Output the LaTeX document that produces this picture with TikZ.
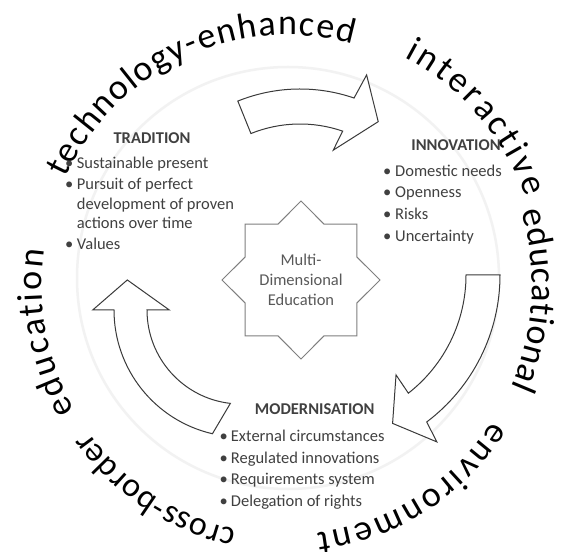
\documentclass[tikz,border=0pt]{standalone}
\usepackage{fontspec}
\setmainfont{Carlito}
\usetikzlibrary{decorations.text}
\definecolor{txt}{HTML}{404040}
\definecolor{startxt}{HTML}{595959}
\definecolor{starline}{HTML}{7F7F7F}
\definecolor{arrline}{HTML}{3A3A3A}
\newcommand{\arcfont}{\fontsize{36}{36}\selectfont}
\newcommand{\arcfontb}{\fontsize{34}{34}\selectfont}
\begin{document}
\begin{tikzpicture}[x=1pt,y=1pt,
  head/.style={font=\fontsize{16.5}{18}\selectfont\bfseries, text=txt, inner sep=0pt, text height=12pt, text depth=4pt},
  item/.style={font=\fontsize{16.5}{18}\selectfont, text=txt, anchor=west, inner sep=0pt, text height=12pt, text depth=4pt},
  bul/.style={item},
  blockarrow/.style={draw=arrline, fill=white, line width=1pt, line join=miter},
  arctext/.style={decorate, decoration={text along path, text align=fit to path, text={#1}}}
]
\useasboundingbox (0,0) rectangle (580,551);
\fill[white] (0,0) rectangle (580,551);
% faint ring
\draw[black!5, line width=2.5pt] (288,273) circle[radius=211];

% outer curved words
\begin{scope}[shift={(287,266)}]
\path[arctext={|\arcfont|technology-enhanced}] (154.5:245 and 250) arc[start angle=154.5, end angle=74.5, x radius=245, y radius=250];
\path[arctext={|\arcfont|interactive}] (62.5:254 and 257) arc[start angle=62.5, end angle=20, x radius=254, y radius=257];
\path[arctext={|\arcfont|educational}] (17:245 and 250) arc[start angle=17, end angle=-24, x radius=245, y radius=250];
\path[arctext={|\arcfont|environment}] (-33:245 and 250) arc[start angle=-33, end angle=-83, x radius=245, y radius=250];
\path[arctext={|\arcfontb|cross-border}] (258:245 and 250) arc[start angle=258, end angle=216, x radius=245, y radius=250];
\path[arctext={|\arcfont|education}] (210:245 and 250) arc[start angle=210, end angle=172, x radius=245, y radius=250];
\end{scope}

% block arrows
\begin{scope}[shift={(300,296)}]
\draw[blockarrow] (112:166) arc[start angle=112, end angle=71, radius=166] -- (69.7:192) -- (59.6:154.6) -- (72.4:110) -- (71:131) arc[start angle=71, end angle=112, radius=131] -- cycle;
\end{scope}
\begin{scope}[shift={(316,276)}]
\draw[blockarrow] (0:184) arc[start angle=0, end angle=-53, radius=184] -- (-54.1:206) -- (-62.7:167) -- (-51.3:128) -- (-52:150) arc[start angle=-52, end angle=0, radius=150] -- cycle;
\end{scope}
\begin{scope}[shift={(241,241)}]
\draw[blockarrow] (257:127) arc[start angle=257, end angle=180, radius=127] -- (180:148.3) -- (165.2:117.6) -- (180:71.7) -- (180:94) arc[start angle=180, end angle=263.5, radius=94] -- cycle;
\end{scope}

% central star
\begin{scope}[shift={(301,271)}]
\draw[draw=starline, fill=white, line width=1pt] (0:79) -- (22.5:60.4) -- (45:79) -- (67.5:60.4) -- (90:79) -- (112.5:60.4) -- (135:79) -- (157.5:60.4) -- (180:79) -- (202.5:60.4) -- (225:79) -- (247.5:60.4) -- (270:79) -- (292.5:60.4) -- (315:79) -- (337.5:60.4) -- cycle;
\end{scope}
\node[align=center, text=startxt, font=\fontsize{16.5}{20}\selectfont, inner sep=0pt] (mde) at (301,271) {Multi-\\Dimensional\\Education};

% TRADITION
\node[head] (trh) at (152,411.7) {TRADITION};
\node[bul] (trb1) at (65,386) {•};
\node[item] (tr1) at (76.7,386) {Sustainable present};
\node[bul] (trb2) at (65,365) {•};
\node[item] (tr2) at (76.7,365) {Pursuit of perfect};
\node[item] (tr3) at (76.7,345.5) {development of proven};
\node[item] (tr4) at (76.7,326) {actions over time};
\node[bul] (trb5) at (65,305) {•};
\node[item] (tr5) at (76.7,305) {Values};

% INNOVATION
\node[head] (inh) at (456,404.3) {INNOVATION};
\node[bul] (inb1) at (383,378.3) {•};
\node[item] (in1) at (395,378.3) {Domestic needs};
\node[bul] (inb2) at (383,357) {•};
\node[item] (in2) at (395,357) {Openness};
\node[bul] (inb3) at (383,335) {•};
\node[item] (in3) at (395,335) {Risks};
\node[bul] (inb4) at (383,313.7) {•};
\node[item] (in4) at (395,313.7) {Uncertainty};

% MODERNISATION
\node[head] (moh) at (314.7,140.3) {MODERNISATION};
\node[bul] (mob1) at (219.5,113.7) {•};
\node[item] (mo1) at (230.7,113.7) {External circumstances};
\node[bul] (mob2) at (219.5,92) {•};
\node[item] (mo2) at (230.7,92) {Regulated innovations};
\node[bul] (mob3) at (219.5,70.3) {•};
\node[item] (mo3) at (230.7,70.3) {Requirements system};
\node[bul] (mob4) at (219.5,48.3) {•};
\node[item] (mo4) at (230.7,48.3) {Delegation of rights};
\end{tikzpicture}
\end{document}
